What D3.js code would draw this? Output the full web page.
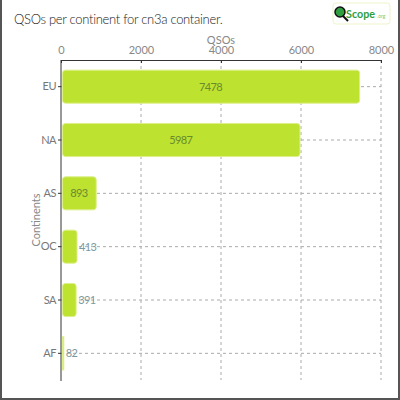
<!DOCTYPE html>
<html><head><meta charset="utf-8">
<script src="https://cdn.jsdelivr.net/npm/d3@7"></script>
<style>body{margin:0;background:#fff}svg{display:block;font-family:Lato,"Open Sans",sans-serif}</style>
</head><body><svg id="c" width="400" height="400"></svg>
<script>
const categories = ["EU","NA","AS","OC","SA","AF"];
const values = [7478,5987,893,413,391,82];
const xTicks = [0,2000,4000,6000,8000];

const svg = d3.select("#c");
const m = {l:61, r:381, t:60, b:380};
const x = d3.scaleLinear().domain([0,8000]).range([m.l, m.r]);
const y = d3.scaleBand().domain(categories).range([m.t, m.b]).paddingInner(0.38).paddingOuter(0.19);

// border
svg.append("path").attr("d","M1,0V399H399V0").attr("fill","none").attr("stroke","#555").attr("stroke-width",2);

// title
svg.append("text").attr("x",14).attr("y",24).attr("font-size",13).attr("font-weight",300).attr("letter-spacing",-0.3).attr("fill","#222").text("QSOs per continent for cn3a container.");

// logo
const lg = svg.append("g");
lg.append("rect").attr("x",333).attr("y",3).attr("width",57).attr("height",21).attr("rx",3).attr("fill","#fff").attr("stroke","#eef3c8");
lg.append("line").attr("x1",343).attr("y1",16).attr("x2",348).attr("y2",21).attr("stroke","#111").attr("stroke-width",2);
lg.append("circle").attr("cx",340).attr("cy",12).attr("r",5).attr("fill","#2e9e3e").attr("stroke","#111").attr("stroke-width",1.5);
lg.append("text").attr("x",346).attr("y",18).attr("font-size",12).attr("font-weight","bold").attr("fill","#2e9e3e")
  .attr("textLength",29).attr("lengthAdjust","spacingAndGlyphs").text("Scope");
lg.append("text").attr("x",377).attr("y",18).attr("font-size",5).attr("fill","#8cc84b").text(".org");

// gridlines
svg.append("g").selectAll("line").data(xTicks.slice(1)).join("line")
  .attr("x1",d=>x(d)).attr("x2",d=>x(d)).attr("y1",m.t).attr("y2",m.b)
  .attr("stroke","#aaa").attr("stroke-dasharray","3,3");
svg.append("g").selectAll("line").data(categories).join("line")
  .attr("x1",m.l).attr("x2",m.r).attr("y1",d=>y(d)+y.bandwidth()/2).attr("y2",d=>y(d)+y.bandwidth()/2)
  .attr("stroke","#aaa").attr("stroke-dasharray","3,3");

// bars
svg.append("g").selectAll("rect").data(values).join("rect")
  .attr("x",x(0)+1.5).attr("y",(d,i)=>y(categories[i]))
  .attr("width",d=>Math.max(1,x(d)-x(0)-2)).attr("height",y.bandwidth())
  .attr("rx",d=>x(d)-x(0)>10?3:0)
  .attr("fill","#bde22f").attr("stroke","#dcef8a").attr("stroke-width",1);

// labels
svg.append("g").selectAll("text").data(values).join("text")
  .attr("x",d=>(x(d)-x(0))>25 ? (x(0)+x(d))/2 : x(d)+1.5)
  .attr("y",(d,i)=>y(categories[i])+y.bandwidth()/2+4)
  .attr("text-anchor",d=>(x(d)-x(0))>25?"middle":"start")
  .attr("font-size",11).attr("letter-spacing",-0.6)
  .attr("fill",d=>(x(d)-x(0))>25?"#6a8a30":"#7a9aa0")
  .text(d=>d);

// axes
const ax = svg.append("g").attr("transform",`translate(0,${m.t})`)
  .call(d3.axisTop(x).tickValues(xTicks).tickFormat(d3.format("d")).tickSize(-3).tickSizeOuter(0).tickPadding(6));
ax.select(".domain").attr("stroke","#333");
ax.selectAll(".tick line").attr("stroke","#333");
ax.selectAll("text").attr("font-size",11).attr("fill","#888").attr("font-family","Lato,sans-serif");
const ay = svg.append("g").attr("transform",`translate(${m.l},0)`)
  .call(d3.axisLeft(y).tickSize(3).tickSizeOuter(0).tickPadding(2));
ay.select(".domain").attr("stroke","#333").attr("d",`M0,${m.t}V${m.b+1}`);
ay.selectAll(".tick line").attr("stroke","#333");
ay.selectAll("text").attr("font-size",11).attr("fill","#777").attr("letter-spacing",-0.5).attr("font-family","Lato,sans-serif");

svg.append("text").attr("x",221).attr("y",44).attr("text-anchor","middle").attr("font-size",11).attr("fill","#888").text("QSOs");
svg.append("text").attr("transform","translate(40,220) rotate(-90)").attr("text-anchor","middle").attr("font-size",11).attr("fill","#888").text("Continents");
</script></body></html>
